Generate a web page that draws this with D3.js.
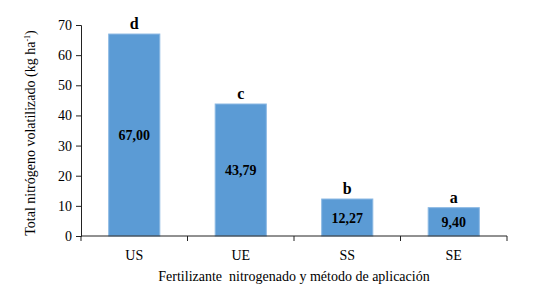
<!DOCTYPE html>
<html>
<head>
<meta charset="utf-8">
<script src="https://cdn.jsdelivr.net/npm/d3@7"></script>
<style>
  body { margin: 0; background: #fff; }
  svg text { font-family: "Liberation Serif", "Times New Roman", Tinos, "DejaVu Serif", serif; fill: #000; }
</style>
</head>
<body>
<div id="wrapper"></div>
<script>
const categories = ["US", "UE", "SS", "SE"]
const values = [67.00, 43.79, 12.27, 9.40]
const valueLabels = ["67,00", "43,79", "12,27", "9,40"]
const letters = ["d", "c", "b", "a"]
const yTicks = [0, 10, 20, 30, 40, 50, 60, 70]

const serif = '"Liberation Serif", "Times New Roman", Tinos, "DejaVu Serif", serif'

function drawChart() {
    const dimensions = {
        width: 536,
        height: 292,
        margin: { top: 25, right: 29, bottom: 56, left: 81 },
    }
    dimensions.boundedWidth = dimensions.width - dimensions.margin.left - dimensions.margin.right
    dimensions.boundedHeight = dimensions.height - dimensions.margin.top - dimensions.margin.bottom

    const svg = d3.select("#wrapper")
        .append("svg")
        .attr("width", dimensions.width)
        .attr("height", dimensions.height)
        .attr("font-family", serif)

    const bounds = svg.append("g")
        .attr("transform", `translate(${dimensions.margin.left}, ${dimensions.margin.top})`)

    const xScale = d3.scaleBand()
        .domain(categories)
        .range([0, dimensions.boundedWidth])
        .paddingInner(0.52)
        .paddingOuter(0.26)

    const yScale = d3.scaleLinear()
        .domain([0, 70])
        .range([dimensions.boundedHeight, 0])

    const data = categories.map((c, i) => ({ cat: c, value: values[i], label: valueLabels[i], letter: letters[i] }))

    // bars
    const bars = bounds.append("g").selectAll("g")
        .data(data)
        .join("g")

    bars.append("rect")
        .attr("x", d => xScale(d.cat))
        .attr("y", d => yScale(d.value))
        .attr("width", xScale.bandwidth())
        .attr("height", d => dimensions.boundedHeight - yScale(d.value))
        .attr("fill", "#5b9bd5")
        .attr("stroke", "#8bb8e3")
        .attr("stroke-width", 1)

    bars.append("text")
        .attr("x", d => xScale(d.cat) + xScale.bandwidth() / 2)
        .attr("y", d => yScale(d.value / 2) + 5)
        .attr("text-anchor", "middle")
        .style("font-size", "14px")
        .style("font-weight", "bold")
        .text(d => d.label)

    bars.append("text")
        .attr("x", d => xScale(d.cat) + xScale.bandwidth() / 2)
        .attr("y", d => yScale(d.value) - 5)
        .attr("text-anchor", "middle")
        .style("font-size", "16px")
        .style("font-weight", "bold")
        .text(d => d.letter)

    // y axis
    const yAxis = bounds.append("g")
        .call(d3.axisLeft(yScale).tickValues(yTicks).tickSize(5).tickPadding(4))
        .attr("font-family", serif)
    yAxis.select(".domain").attr("stroke", "#222")
    yAxis.selectAll(".tick line").attr("stroke", "#222")
    yAxis.selectAll(".tick text")
        .style("font-size", "14px")

    // x axis with ticks at band boundaries
    const xAxis = bounds.append("g")
        .attr("transform", `translate(0, ${dimensions.boundedHeight})`)
    xAxis.append("line")
        .attr("x1", 0).attr("x2", dimensions.boundedWidth)
        .attr("stroke", "#222")
    const boundaries = d3.range(categories.length + 1).map(i => i * dimensions.boundedWidth / categories.length)
    xAxis.selectAll(".xtick")
        .data(boundaries)
        .join("line")
        .attr("class", "xtick")
        .attr("x1", d => d).attr("x2", d => d)
        .attr("y1", 0).attr("y2", 5)
        .attr("stroke", "#222")
    xAxis.selectAll(".xlabel")
        .data(categories)
        .join("text")
        .attr("class", "xlabel")
        .attr("x", d => xScale(d) + xScale.bandwidth() / 2)
        .attr("y", 24)
        .attr("text-anchor", "middle")
        .style("font-size", "14px")
        .text(d => d)

    // axis titles
    svg.append("text")
        .attr("x", dimensions.margin.left + dimensions.boundedWidth / 2)
        .attr("y", 281)
        .attr("text-anchor", "middle")
        .attr("xml:space", "preserve")
        .style("font-size", "14px")
        .style("white-space", "pre")
        .text("Fertilizante  nitrogenado y método de aplicación")

    const yTitle = svg.append("text")
        .attr("transform", `translate(35, ${dimensions.margin.top + 108}) rotate(-90)`)
        .attr("text-anchor", "middle")
        .style("font-size", "14px")
    yTitle.append("tspan").text("Total nitrógeno volatilizado (kg ha")
    yTitle.append("tspan").attr("dy", -5).style("font-size", "8px").text("-1")
    yTitle.append("tspan").attr("dy", 5).text(")")
}

drawChart()
</script>
</body>
</html>
